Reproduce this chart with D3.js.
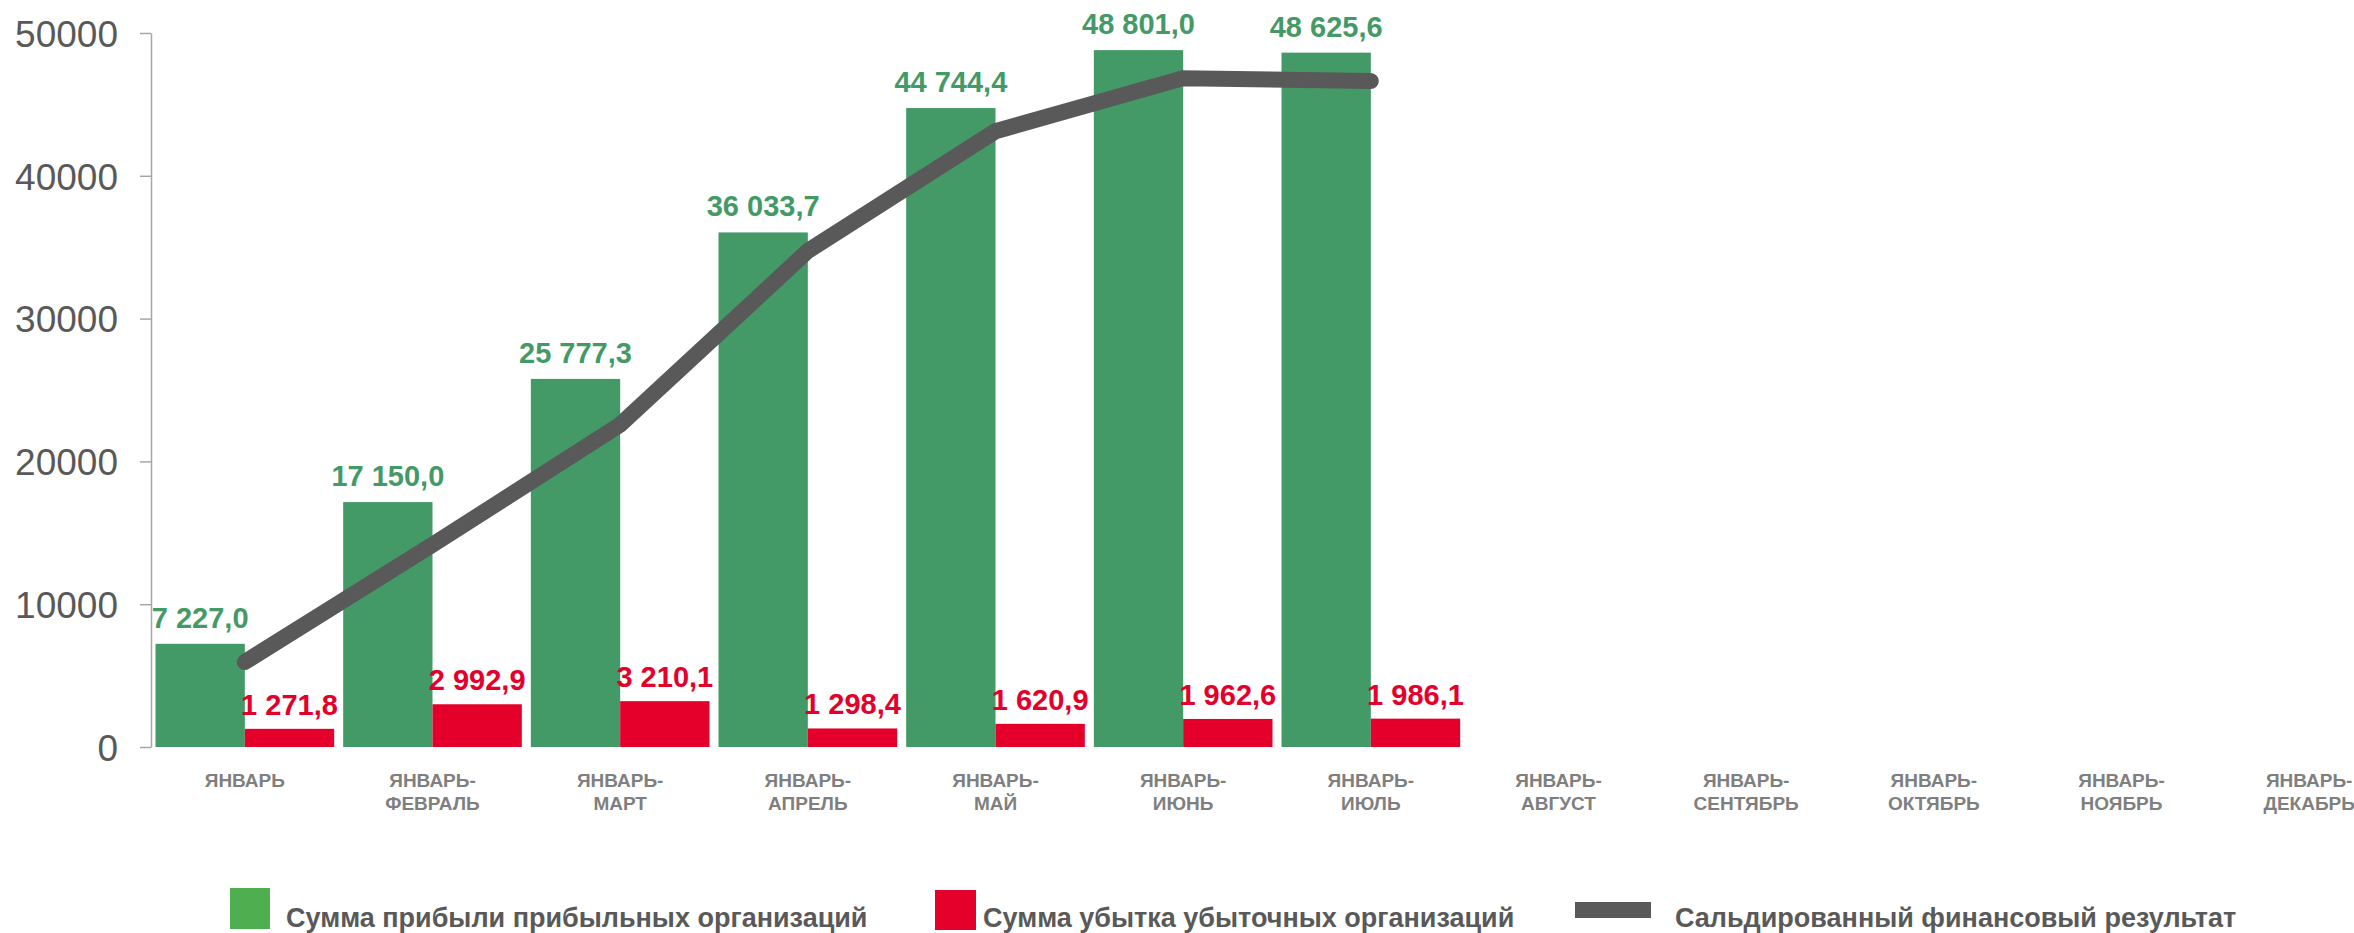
<!DOCTYPE html>
<html>
<head>
<meta charset="utf-8">
<script src="https://cdn.jsdelivr.net/npm/d3@7"></script>
<style>
  html, body { margin: 0; padding: 0; background: #fff; overflow: hidden; }
  svg { display: block; font-family: "Liberation Sans", Arial, sans-serif; }
</style>
</head>
<body>
<svg id="chart" width="2354" height="933"></svg>
<script>
// ---- data ----
const categories = [
  ["ЯНВАРЬ"],
  ["ЯНВАРЬ-", "ФЕВРАЛЬ"],
  ["ЯНВАРЬ-", "МАРТ"],
  ["ЯНВАРЬ-", "АПРЕЛЬ"],
  ["ЯНВАРЬ-", "МАЙ"],
  ["ЯНВАРЬ-", "ИЮНЬ"],
  ["ЯНВАРЬ-", "ИЮЛЬ"],
  ["ЯНВАРЬ-", "АВГУСТ"],
  ["ЯНВАРЬ-", "СЕНТЯБРЬ"],
  ["ЯНВАРЬ-", "ОКТЯБРЬ"],
  ["ЯНВАРЬ-", "НОЯБРЬ"],
  ["ЯНВАРЬ-", "ДЕКАБРЬ"]
];
const profit = [7227.0, 17150.0, 25777.3, 36033.7, 44744.4, 48801.0, 48625.6];
const loss   = [1271.8, 2992.9, 3210.1, 1298.4, 1620.9, 1962.6, 1986.1];
const balance = [5955.2, 14157.1, 22567.2, 34735.3, 43123.5, 46838.4, 46639.5];
const yTicks = [0, 10000, 20000, 30000, 40000, 50000];
const seriesNames = [
  "Сумма прибыли прибыльных организаций",
  "Сумма убытка убыточных организаций",
  "Сальдированный финансовый результат"
];

// ---- styles ----
const GREEN = "#449A67", GREEN_LEG = "#4EAE50", RED = "#E4002B", GRAY = "#595959";

const svg = d3.select("#chart");
const keys = categories.map((c, i) => "c" + i);

const x = d3.scaleBand().domain(keys).range([151, 2403]).paddingInner(0.048).paddingOuter(0.024);
const xs = d3.scaleBand().domain(["p", "l"]).range([0, x.bandwidth()]);
const y = d3.scaleLinear().domain([0, 50000]).range([747, 33]);

// y axis
const yAxis = svg.append("g").attr("transform", "translate(151,0)")
  .call(d3.axisLeft(y).tickValues(yTicks).tickFormat(d3.format("d")).tickSize(11).tickSizeOuter(0).tickPadding(22));
yAxis.select(".domain").attr("stroke", "#a6a6a6").attr("stroke-width", 1.5);
yAxis.selectAll(".tick line").attr("stroke", "#a6a6a6").attr("stroke-width", 1.5);
yAxis.selectAll(".tick text").attr("fill", GRAY).attr("font-size", 37)
  .attr("font-family", "'Liberation Sans', Arial, sans-serif").attr("dy", "0.36em");

const fmt = v => d3.format(",.1f")(v).replace(/,/g, " ").replace(".", ",");

// bars
const gP = svg.append("g");
gP.selectAll("rect").data(profit).join("rect")
  .attr("x", (d, i) => x(keys[i]) + xs("p"))
  .attr("y", d => y(d))
  .attr("width", xs.bandwidth())
  .attr("height", d => y(0) - y(d))
  .attr("fill", GREEN);
const gL = svg.append("g");
gL.selectAll("rect").data(loss).join("rect")
  .attr("x", (d, i) => x(keys[i]) + xs("l"))
  .attr("y", d => y(d))
  .attr("width", xs.bandwidth())
  .attr("height", d => y(0) - y(d))
  .attr("fill", RED);

// line
const line = d3.line().x((d, i) => x(keys[i]) + x.bandwidth() / 2).y(d => y(d));
svg.append("path").datum(balance)
  .attr("d", line).attr("fill", "none").attr("stroke", GRAY)
  .attr("stroke-width", 16).attr("stroke-linecap", "round").attr("stroke-linejoin", "miter");

// value labels
svg.append("g").selectAll("text").data(profit).join("text")
  .attr("x", (d, i) => x(keys[i]) + xs("p") + xs.bandwidth() / 2)
  .attr("y", d => y(d) - 16)
  .attr("text-anchor", "middle").attr("font-size", 29).attr("font-weight", "bold")
  .attr("fill", GREEN).text(fmt);
svg.append("g").selectAll("text").data(loss).join("text")
  .attr("x", (d, i) => x(keys[i]) + xs("l") + xs.bandwidth() / 2)
  .attr("y", d => y(d) - 14)
  .attr("text-anchor", "middle").attr("font-size", 29).attr("font-weight", "bold")
  .attr("fill", RED).text(fmt);

// x labels
const xl = svg.append("g").selectAll("text").data(categories).join("text")
  .attr("x", (d, i) => x(keys[i]) + x.bandwidth() / 2)
  .attr("y", 786.5)
  .attr("text-anchor", "middle").attr("font-size", 19).attr("font-weight", "bold")
  .attr("fill", "#7f7f7f");
xl.selectAll("tspan").data(d => d).join("tspan")
  .attr("x", function() { return this.parentNode.getAttribute("x"); })
  .attr("dy", (d, i) => i === 0 ? 0 : 23.3)
  .text(d => d);

// legend
const leg = svg.append("g");
const legItems = [
  { name: seriesNames[0], color: GREEN_LEG, sx: 230, sy: 888, sw: 40, sh: 41, tx: 286 },
  { name: seriesNames[1], color: RED, sx: 935, sy: 890, sw: 41, sh: 40, tx: 983 },
  { name: seriesNames[2], color: GRAY, sx: 1575, sy: 902, sw: 76, sh: 16, tx: 1675 }
];
legItems.forEach(it => {
  leg.append("rect").attr("x", it.sx).attr("y", it.sy).attr("width", it.sw).attr("height", it.sh).attr("fill", it.color);
  leg.append("text").attr("x", it.tx).attr("y", 926.5).attr("font-size", 27).attr("font-weight", "bold")
    .attr("fill", GRAY).text(it.name);
});
</script>
</body>
</html>
